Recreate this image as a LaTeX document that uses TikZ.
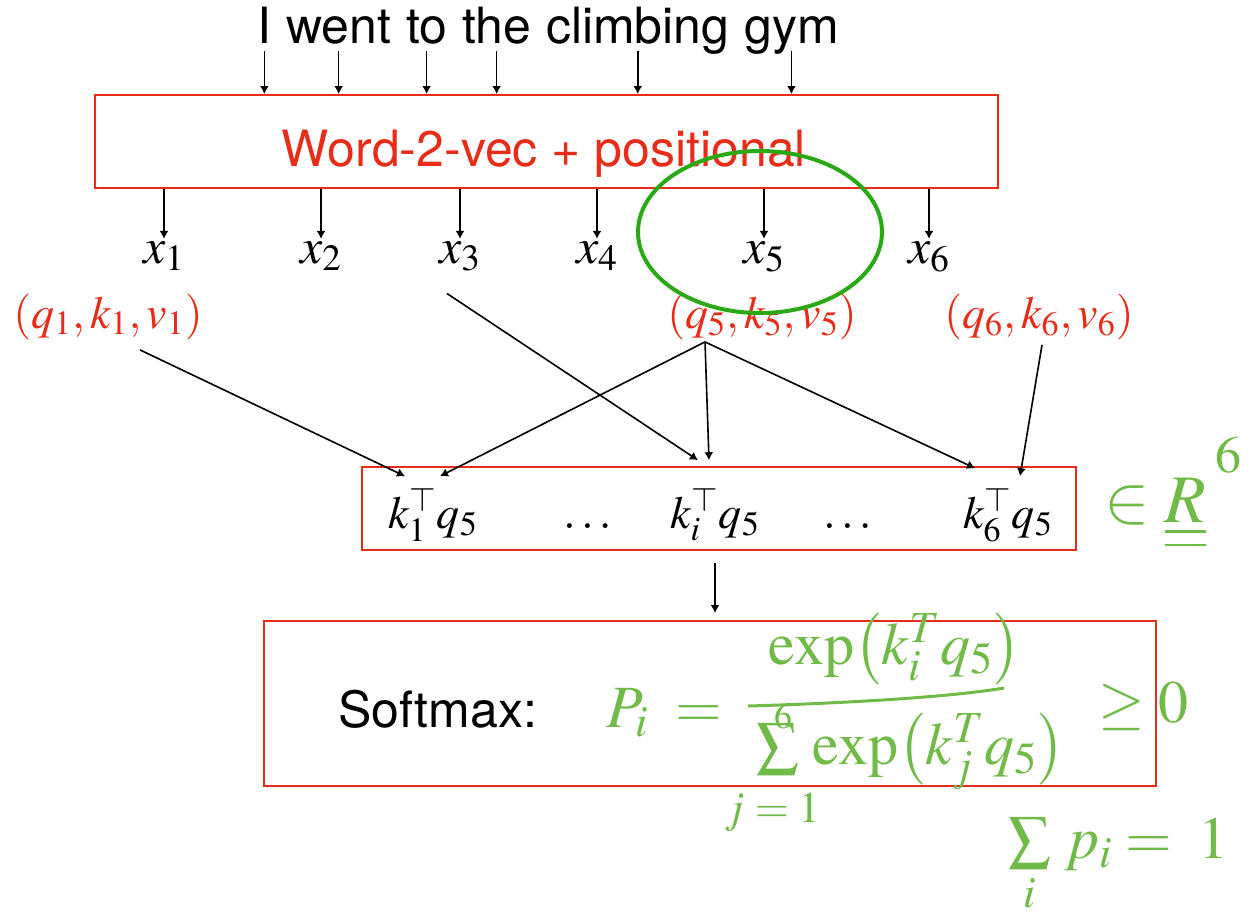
\documentclass[tikz,border=0pt]{standalone}
\usepackage{mathptmx}
\usepackage[no-math]{fontspec}
\setsansfont{TeX Gyre Heros}
\usepackage{amsmath}
\usepackage{tikz}
\usetikzlibrary{calc,positioning,arrows,arrows.meta}
\definecolor{slidered}{RGB}{232,44,26}
\definecolor{markgreen}{RGB}{43,168,22}
\definecolor{inkgreen}{RGB}{112,186,72}

\begin{document}
\begin{tikzpicture}[x=0.5pt, y=-0.5pt, >={Latex[length=4pt, width=4.5pt]},
  redbox/.style={draw=slidered, line width=1pt},
  word/.style={inner sep=0pt, font=\sffamily\fontsize{25}{30}\selectfont},
  mlbl/.style={inner sep=1pt, font=\fontsize{25}{30}\selectfont},
  qkv/.style={inner sep=1pt, text=slidered, font=\fontsize{23}{28}\selectfont},
  ink/.style={inner sep=0pt, text=inkgreen, font=\fontsize{30}{36}\selectfont},
  inksmall/.style={ink, font=\fontsize{22}{26}\selectfont},
  conn/.style={->, line width=0.8pt}]
\useasboundingbox (0,0) rectangle (1257,918);
%sentence
\node[word, anchor=base west] (w1) at (257,43) {I};
\node[word, base right=7pt of w1] (w2) {went};
\node[word, base right=7pt of w2] (w3) {to};
\node[word, base right=7pt of w3] (w4) {the};
\node[word, base right=7pt of w4] (w5) {climbing};
\node[word, base right=7pt of w5] (w6) {gym};
%embedding
\node[redbox, minimum width=451.5pt, minimum height=46.5pt] (emb) at (546.5,141.5) {};
\node[word, text=slidered, anchor=base] (embtxt) at (544,166) {Word-2-vec + positional};
\foreach \w in {w1,w2,w3,w4,w5,w6}{\draw[conn] ($(\w.base)+(0,8)$) -- (\w.base |- emb.north);}
%tokens
\node[mlbl, anchor=base] (x1) at (164,263) {$x_1$};
\node[mlbl, anchor=base] (x2) at (321,263) {$x_2$};
\node[mlbl, anchor=base] (x3) at (460,263) {$x_3$};
\node[mlbl, anchor=base] (x4) at (597,263) {$x_4$};
\node[mlbl, anchor=base] (x5) at (764,263) {$x_5$};
\node[mlbl, anchor=base] (x6) at (929,263) {$x_6$};
\foreach \i in {1,...,6}{\draw[conn] (x\i.north |- emb.south) -- (x\i.north);}
%queries, keys, values
\node[qkv, anchor=base] (t1) at (108,328) {$(q_1, k_1, v_1)$};
\node[qkv, anchor=base] (t5) at (762,328) {$(q_5, k_5, v_5)$};
\node[qkv, anchor=base] (t6) at (1039,328) {$(q_6, k_6, v_6)$};
%scores
\node[redbox, minimum width=357pt, minimum height=41.5pt] (kbox) at (719,508.5) {};
\node[qkv, text=black, anchor=base] (k1) at (433,528) {$k_1^{\top} q_5$};
\node[qkv, text=black, anchor=base] (d1) at (590,528) {$\dots$};
\node[qkv, text=black, anchor=base] (ki) at (715,528) {$k_i^{\top} q_5$};
\node[qkv, text=black, anchor=base] (d2) at (850,528) {$\dots$};
\node[qkv, text=black, anchor=base] (k6) at (1008,528) {$k_6^{\top} q_5$};
\coordinate (fan) at ($(t5.south)+(-57,0)$);
\draw[conn] ($(t1.south)+(32,8)$) -- ($(k1.north)+(-28,-9)$);
\draw[conn] ($(x3.south)+(-13,20)$) -- ($(ki.north)+(-17,-25)$);
\draw[conn] (fan) -- ($(k1.north)+(7,-9)$);
\draw[conn] (fan) -- ($(ki.north)+(-6,-25)$);
\draw[conn] (fan) -- ($(k6.north)+(-33,-17)$);
\draw[conn] ($(t6.south)+(3,3)$) -- ($(k6.north)+(12,-9)$);
%softmax
\node[redbox, minimum width=446pt, minimum height=82.5pt] (soft) at (710,703.5) {};
\node[word, anchor=base west] (smtxt) at (338,727) {Softmax:};
\draw[conn] ($(kbox.south -| ki)+(0,12)$) -- ($(soft.north -| ki)+(0,-7)$);
%notes
\draw[markgreen, line width=2pt] (760,232) ellipse [x radius=122, y radius=81];
\node[ink, anchor=base west] (pdef) at (606,727) {$P_i\;=$};
\node[ink, anchor=base] (pnum) at (895,664) {$\exp\bigl(k_i^{T} q_5\bigr)$};
\draw[inkgreen, line width=1.5pt] (748,706) .. controls (850,703) and (950,697) .. (1004,688);
\node[ink, anchor=base west] (pden) at (756,764) {$\sum\,\exp\bigl(k_j^{T} q_5\bigr)$};
\node[inksmall, font=\fontsize{18}{22}\selectfont] (psix) at (783,716) {$6$};
\node[inksmall] (plim) at (773,812) {$j=1$};
\node[ink, anchor=base west] (pgeq) at (1098,722) {$\geq 0$};
\node[ink, anchor=base west] (psum) at (1008,858) {$\sum\limits_i\, p_i = \; 1$};
\node[ink, font=\fontsize{34}{40}\selectfont, anchor=base west] (inR) at (1104,522) {$\in\underline{\underline{R}}$};
\node[inksmall, font=\fontsize{26}{30}\selectfont] (rsix) at (1228,455) {$6$};
\end{tikzpicture}
\end{document}
